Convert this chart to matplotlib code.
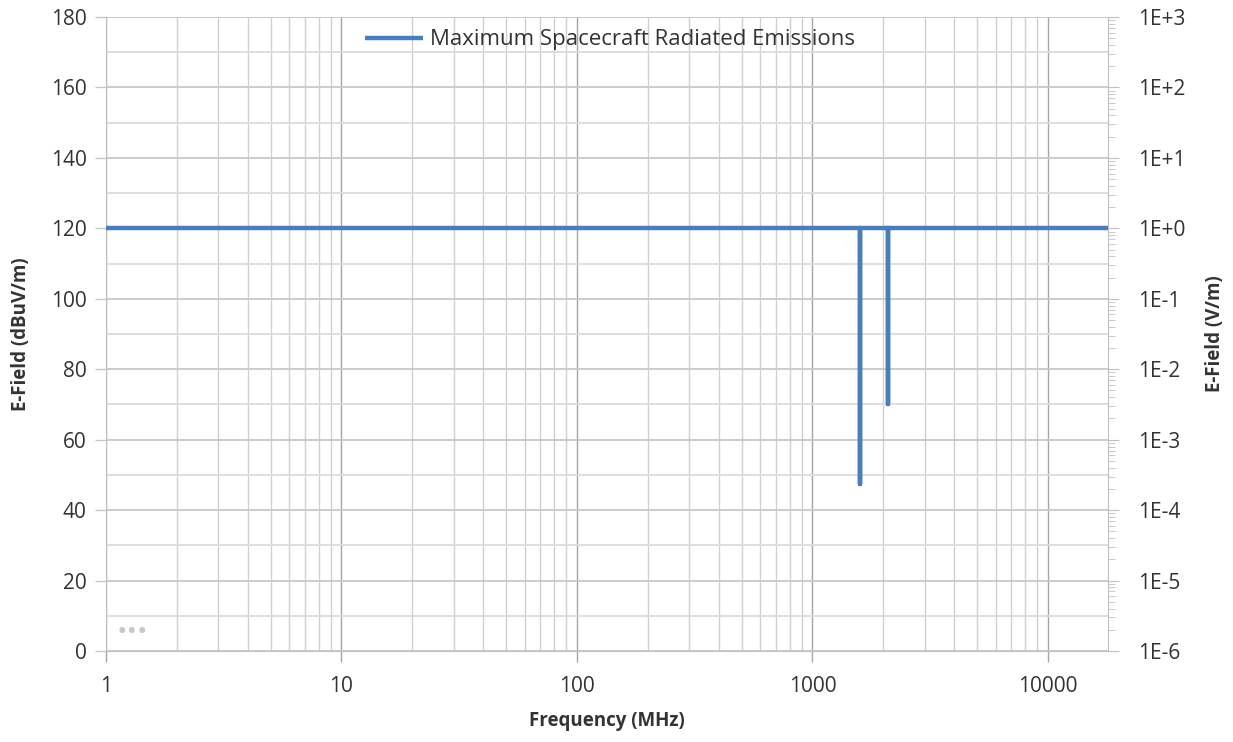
import numpy as np
import matplotlib.pyplot as plt
from matplotlib.ticker import FixedLocator, FuncFormatter, LogLocator, NullFormatter

plt.rcParams['font.family'] = ['Open Sans', 'DejaVu Sans']

# data
freq_mhz = [1, 1585, 1585, 1585, 2085, 2085, 2085, 18000]
efield_dbuv = [120, 120, 47.5, 120, 120, 70, 120, 120]
series_name = 'Maximum Spacecraft Radiated Emissions'
left_ticks = list(range(0, 181, 20))
x_ticks = [1, 10, 100, 1000, 10000]

LINE = '#4a7ebb'
TXT = '#333333'

fig = plt.figure(figsize=(12.33, 7.42), dpi=100)
ax = fig.add_axes([0.086, 0.1226, 0.8126, 0.8545])

ax.plot(freq_mhz, efield_dbuv, color=LINE, lw=3.2, label=series_name,
        solid_capstyle='butt', zorder=3)

ax.set_xscale('log')
ax.set_xlim(1, 18000)
ax.set_ylim(0, 180)
ax.set_xticks(x_ticks)
ax.xaxis.set_major_formatter(FuncFormatter(lambda v, p: f'{v:.0f}'))
ax.xaxis.set_minor_locator(LogLocator(base=10, subs=np.arange(2, 10)))
ax.xaxis.set_minor_formatter(NullFormatter())
ax.set_yticks(left_ticks)
ax.yaxis.set_minor_locator(FixedLocator(range(10, 180, 20)))

ax.grid(which='major', axis='x', color='#a6a6a6', lw=1.0)
ax.grid(which='minor', axis='x', color='#d0d0d0', lw=1.0)
ax.grid(which='major', axis='y', color='#c8c8c8', lw=1.3)
ax.grid(which='minor', axis='y', color='#dcdcdc', lw=1.3)
ax.set_axisbelow(True)

for s in ['top', 'right']:
    ax.spines[s].set_visible(False)
ax.spines['left'].set_color('#c0c0c0')
ax.spines['bottom'].set_color('#c0c0c0')
ax.tick_params(axis='both', which='major', labelsize=15, colors=TXT, length=8, width=1)
ax.tick_params(axis='x', which='major', color='#a6a6a6', pad=10)
ax.tick_params(axis='y', which='major', color='#c8c8c8', pad=6)
ax.tick_params(which='minor', length=0)

ax.set_xlabel('Frequency (MHz)', fontsize=13.5, fontweight='bold', color=TXT, labelpad=10)
ax.set_ylabel('E-Field (dBuV/m)', fontsize=13.5, fontweight='bold', color=TXT, labelpad=14)

ax2 = ax.twinx()
ax2.set_yscale('log')
ax2.set_ylim(1e-6, 1e3)
ax2.yaxis.set_major_locator(LogLocator(base=10, numticks=20))
ax2.yaxis.set_minor_locator(LogLocator(base=10, subs=np.arange(2, 10), numticks=20))
ax2.yaxis.set_major_formatter(FuncFormatter(lambda v, p: f'1E{int(round(np.log10(v))):+d}'.replace('+-', '-')))
ax2.yaxis.set_minor_formatter(NullFormatter())
for s in ['top', 'left', 'bottom']:
    ax2.spines[s].set_visible(False)
ax2.spines['right'].set_color('#c0c0c0')
ax2.tick_params(axis='y', which='major', labelsize=15, colors=TXT, color='#c0c0c0', length=8, pad=14)
ax2.tick_params(axis='y', which='minor', color='#c0c0c0', length=5)
ax2.set_ylabel('E-Field (V/m)', fontsize=13.5, fontweight='bold', color=TXT, labelpad=14)

leg = ax.legend(loc='upper center', bbox_to_anchor=(0.503, 1.012), frameon=False,
                fontsize=16, handlelength=2.6, handletextpad=0.3)
for t in leg.get_texts():
    t.set_color(TXT)

ax.text(0.011, 0.018, '\u2022\u2022\u2022', transform=ax.transAxes, color='#c8c8c8',
        fontsize=20)

fig.savefig('out.png', dpi=100)
